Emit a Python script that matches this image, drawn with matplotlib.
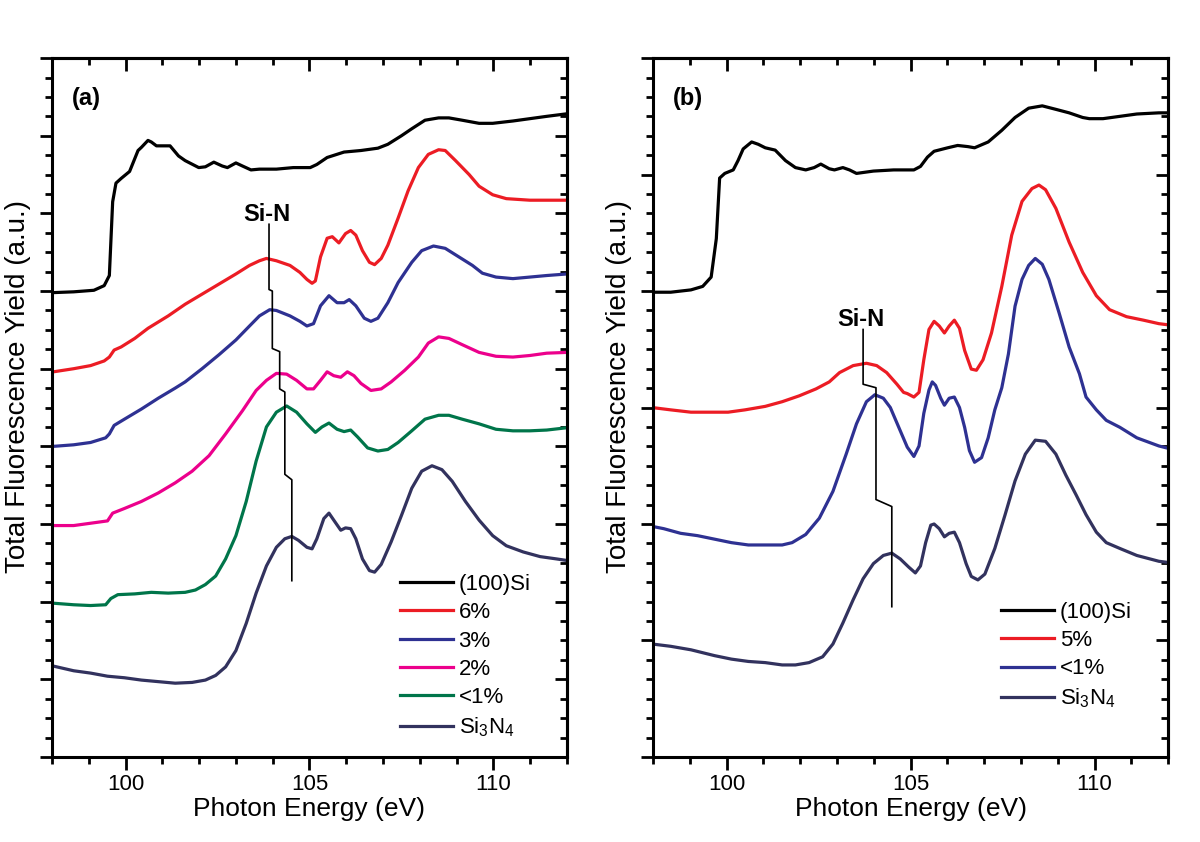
import matplotlib
matplotlib.use('Agg')
import matplotlib.pyplot as plt
from matplotlib.ticker import MultipleLocator, AutoMinorLocator

plt.rcParams['font.family'] = ['Liberation Sans', 'DejaVu Sans']
plt.rcParams['mathtext.fontset'] = 'custom'
plt.rcParams['mathtext.rm'] = 'Liberation Sans'
plt.rcParams['mathtext.it'] = 'Liberation Sans:italic'

# ---------------- panel (a) ----------------
# (100)Si
a_si_e = [98.04, 98.59, 99.14, 99.42, 99.56, 99.65, 99.74, 99.88, 100.11, 100.34, 100.43, 100.61,
          100.70, 100.84, 101.21, 101.44, 101.62, 101.99, 102.17, 102.40, 102.63, 102.77, 103.00,
          103.18, 103.41, 103.64, 104.10, 104.56, 105.02, 105.20, 105.48, 105.94, 106.40, 106.86,
          107.13, 107.50, 107.78, 108.14, 108.51, 108.79, 109.15, 109.61, 109.98, 110.53, 110.99,
          111.45, 111.95]
a_si_y = [5.98, 5.99, 6.01, 6.07, 6.20, 7.15, 7.39, 7.45, 7.54, 7.81, 7.85, 7.94,
          7.92, 7.87, 7.87, 7.74, 7.68, 7.59, 7.60, 7.66, 7.61, 7.59, 7.65,
          7.61, 7.56, 7.57, 7.57, 7.59, 7.59, 7.63, 7.72, 7.79, 7.81, 7.84,
          7.89, 8.00, 8.09, 8.20, 8.23, 8.23, 8.20, 8.16, 8.16, 8.19, 8.22,
          8.25, 8.28]

# 6%
a_6_e = [98.04, 98.59, 99.05, 99.42, 99.56, 99.69, 99.88, 100.25, 100.61, 101.16, 101.62, 102.08,
         102.54, 103.00, 103.37, 103.64, 103.83, 104.10, 104.47, 104.74, 104.93, 105.07, 105.16,
         105.30, 105.48, 105.62, 105.80, 105.98, 106.12, 106.26, 106.44, 106.63, 106.77, 106.95,
         107.13, 107.41, 107.68, 107.96, 108.23, 108.51, 108.69, 108.97, 109.34, 109.61, 109.98,
         110.35, 110.99, 111.45, 112.0]
a_6_y = [4.96, 5.00, 5.04, 5.10, 5.15, 5.24, 5.28, 5.39, 5.52, 5.68, 5.83, 5.96,
         6.09, 6.22, 6.33, 6.39, 6.42, 6.39, 6.33, 6.24, 6.15, 6.10, 6.13,
         6.44, 6.68, 6.70, 6.62, 6.74, 6.78, 6.72, 6.52, 6.37, 6.34, 6.42,
         6.59, 6.94, 7.29, 7.59, 7.76, 7.82, 7.81, 7.68, 7.50, 7.35, 7.24,
         7.19, 7.17, 7.17, 7.17]

# 3%
a_3_e = [98.04, 98.59, 99.05, 99.46, 99.56, 99.69, 99.97, 100.43, 100.89, 101.35, 101.62, 102.08,
         102.54, 103.00, 103.37, 103.64, 103.92, 104.10, 104.47, 104.74, 104.93, 105.11, 105.30,
         105.53, 105.75, 105.94, 106.08, 106.26, 106.49, 106.67, 106.86, 107.13, 107.41, 107.78,
         108.05, 108.37, 108.69, 109.06, 109.43, 109.70, 110.07, 110.53, 110.99, 111.45, 112.0]
a_3_y = [4.00, 4.02, 4.05, 4.11, 4.16, 4.27, 4.35, 4.48, 4.62, 4.75, 4.83, 5.00,
         5.18, 5.37, 5.55, 5.68, 5.76, 5.75, 5.68, 5.61, 5.55, 5.58, 5.81,
         5.94, 5.85, 5.85, 5.89, 5.81, 5.65, 5.61, 5.65, 5.85, 6.11, 6.37,
         6.52, 6.58, 6.55, 6.44, 6.33, 6.23, 6.18, 6.16, 6.18, 6.20, 6.22]

# 2%
a_2_e = [98.04, 98.59, 99.05, 99.51, 99.65, 99.97, 100.43, 100.89, 101.35, 101.81, 102.27, 102.72,
         103.18, 103.55, 103.83, 104.10, 104.38, 104.65, 104.93, 105.11, 105.30, 105.48, 105.66,
         105.85, 106.03, 106.21, 106.40, 106.67, 106.95, 107.22, 107.59, 107.96, 108.23, 108.51,
         108.79, 109.15, 109.61, 110.07, 110.53, 110.99, 111.45, 112.0]
a_2_y = [2.98, 2.98, 3.01, 3.04, 3.14, 3.20, 3.29, 3.40, 3.53, 3.68, 3.88, 4.16,
         4.46, 4.72, 4.85, 4.94, 4.93, 4.85, 4.74, 4.74, 4.85, 4.96, 4.91,
         4.89, 4.96, 4.91, 4.81, 4.72, 4.74, 4.83, 4.98, 5.15, 5.33, 5.41,
         5.39, 5.31, 5.21, 5.16, 5.15, 5.17, 5.20, 5.21]

# <1%
a_1_e = [98.04, 98.59, 99.05, 99.46, 99.60, 99.79, 100.25, 100.70, 101.16, 101.62, 101.90, 102.17,
         102.45, 102.72, 103.00, 103.28, 103.55, 103.83, 104.10, 104.38, 104.65, 104.93, 105.16,
         105.34, 105.53, 105.75, 105.94, 106.12, 106.31, 106.58, 106.86, 107.13, 107.41, 107.78,
         108.14, 108.51, 108.79, 109.15, 109.61, 110.07, 110.53, 110.99, 111.45, 112.0]
a_1_y = [1.98, 1.96, 1.95, 1.96, 2.04, 2.09, 2.10, 2.12, 2.11, 2.12, 2.15, 2.22,
         2.33, 2.55, 2.85, 3.29, 3.81, 4.25, 4.44, 4.52, 4.44, 4.29, 4.18,
         4.25, 4.30, 4.22, 4.19, 4.21, 4.12, 3.98, 3.94, 3.96, 4.05, 4.20,
         4.35, 4.40, 4.40, 4.35, 4.29, 4.22, 4.20, 4.20, 4.21, 4.24]

# Si3N4
a_sin_e = [98.04, 98.59, 99.05, 99.51, 99.97, 100.43, 100.89, 101.35, 101.81, 102.17, 102.45, 102.72,
           103.00, 103.28, 103.55, 103.83, 104.10, 104.33, 104.52, 104.70, 104.93, 105.07, 105.20,
           105.39, 105.53, 105.66, 105.85, 105.98, 106.12, 106.26, 106.44, 106.63, 106.77, 106.95,
           107.22, 107.50, 107.78, 108.05, 108.33, 108.60, 108.88, 109.24, 109.61, 109.98, 110.35,
           110.81, 111.27, 111.72, 112.0]
a_sin_y = [1.17, 1.11, 1.08, 1.04, 1.02, 0.99, 0.97, 0.95, 0.96, 0.99, 1.05, 1.16,
           1.37, 1.72, 2.11, 2.46, 2.70, 2.81, 2.84, 2.79, 2.70, 2.68, 2.81,
           3.07, 3.14, 3.05, 2.92, 2.95, 2.94, 2.81, 2.55, 2.40, 2.38, 2.48,
           2.77, 3.11, 3.46, 3.68, 3.75, 3.70, 3.55, 3.29, 3.05, 2.85, 2.72,
           2.64, 2.58, 2.55, 2.53]

# Si-N peak marker
a_mark_e = [103.90, 103.90, 103.99, 103.99, 104.19, 104.19, 104.33, 104.33, 104.52, 104.52]
a_mark_y = [6.86, 6.02, 6.00, 5.26, 5.22, 4.74, 4.70, 3.64, 3.57, 2.27]

# ---------------- panel (b) ----------------
b_si_e = [97.97, 98.48, 99.03, 99.35, 99.58, 99.72, 99.81, 99.95, 100.18, 100.31, 100.45, 100.68,
          100.86, 101.05, 101.32, 101.60, 101.87, 102.15, 102.38, 102.56, 102.79, 102.93, 103.16,
          103.34, 103.53, 103.99, 104.54, 105.09, 105.27, 105.46, 105.64, 106.01, 106.28, 106.56,
          106.74, 107.11, 107.48, 107.84, 108.21, 108.58, 108.95, 109.31, 109.68, 109.86, 110.23,
          110.69, 111.15, 111.75, 112.0]
b_si_y = [3.99, 3.99, 4.01, 4.04, 4.12, 4.45, 4.97, 5.01, 5.04, 5.12, 5.22, 5.28,
          5.26, 5.23, 5.21, 5.12, 5.06, 5.04, 5.06, 5.09, 5.05, 5.04, 5.06,
          5.04, 5.01, 5.03, 5.04, 5.04, 5.07, 5.15, 5.20, 5.23, 5.25, 5.24,
          5.23, 5.28, 5.38, 5.49, 5.57, 5.59, 5.56, 5.53, 5.49, 5.48, 5.48,
          5.50, 5.52, 5.53, 5.53]

# 5%
b_5_e = [97.97, 98.48, 99.03, 99.49, 100.04, 100.50, 101.05, 101.51, 101.97, 102.43, 102.79, 103.07,
         103.44, 103.80, 104.08, 104.35, 104.63, 104.81, 104.91, 105.09, 105.23, 105.36, 105.50,
         105.64, 105.78, 105.92, 106.05, 106.19, 106.33, 106.47, 106.65, 106.79, 106.97, 107.20,
         107.48, 107.75, 108.03, 108.30, 108.49, 108.67, 108.95, 109.31, 109.68, 110.05, 110.41,
         110.87, 111.33, 111.75, 112.0]
b_5_y = [3.00, 2.98, 2.96, 2.96, 2.96, 2.98, 3.01, 3.05, 3.10, 3.16, 3.22, 3.30,
         3.36, 3.38, 3.36, 3.30, 3.20, 3.13, 3.12, 3.09, 3.13, 3.41, 3.67,
         3.74, 3.70, 3.64, 3.70, 3.75, 3.68, 3.49, 3.33, 3.32, 3.41, 3.64,
         4.04, 4.48, 4.77, 4.88, 4.91, 4.87, 4.71, 4.42, 4.16, 3.96, 3.84,
         3.78, 3.75, 3.72, 3.71]

# <1%
b_1_e = [97.97, 98.29, 98.75, 99.21, 99.67, 100.13, 100.59, 101.05, 101.51, 101.78, 102.15, 102.52,
         102.89, 103.25, 103.53, 103.80, 104.03, 104.26, 104.45, 104.68, 104.91, 105.09, 105.23,
         105.36, 105.50, 105.59, 105.68, 105.82, 105.92, 106.05, 106.19, 106.33, 106.47, 106.60,
         106.74, 106.93, 107.11, 107.29, 107.48, 107.66, 107.84, 108.03, 108.21, 108.39, 108.58,
         108.76, 109.04, 109.31, 109.59, 109.77, 110.05, 110.32, 110.69, 111.15, 111.75, 112.0]
b_1_y = [1.98, 1.96, 1.92, 1.90, 1.87, 1.84, 1.82, 1.82, 1.82, 1.84, 1.91, 2.05,
         2.28, 2.60, 2.86, 3.05, 3.11, 3.08, 3.00, 2.83, 2.66, 2.58, 2.67,
         2.95, 3.15, 3.22, 3.19, 3.08, 3.02, 3.08, 3.09, 3.00, 2.83, 2.63,
         2.53, 2.57, 2.74, 2.98, 3.17, 3.46, 3.87, 4.10, 4.22, 4.28, 4.23,
         4.10, 3.81, 3.52, 3.29, 3.09, 2.98, 2.89, 2.83, 2.74, 2.67, 2.65]

# Si3N4
b_sin_e = [97.97, 98.48, 99.03, 99.67, 100.13, 100.59, 101.05, 101.51, 101.87, 102.24, 102.61, 102.89,
           103.16, 103.44, 103.71, 103.99, 104.26, 104.49, 104.72, 104.95, 105.13, 105.27, 105.41,
           105.55, 105.64, 105.78, 105.92, 106.05, 106.19, 106.33, 106.51, 106.65, 106.83, 107.02,
           107.29, 107.57, 107.84, 108.12, 108.39, 108.67, 108.95, 109.22, 109.50, 109.77, 110.05,
           110.32, 110.69, 111.15, 111.75, 112.0]
b_sin_y = [0.97, 0.95, 0.92, 0.87, 0.84, 0.82, 0.81, 0.79, 0.79, 0.81, 0.86, 0.97,
           1.15, 1.35, 1.53, 1.66, 1.73, 1.75, 1.70, 1.63, 1.58, 1.64, 1.84,
           1.99, 2.00, 1.96, 1.89, 1.92, 1.93, 1.84, 1.66, 1.55, 1.52, 1.57,
           1.79, 2.08, 2.37, 2.60, 2.72, 2.71, 2.60, 2.42, 2.25, 2.08, 1.93,
           1.84, 1.79, 1.73, 1.68, 1.67]

b_mark_e = [103.71, 103.71, 104.06, 104.06, 104.49, 104.49]
b_mark_y = [3.67, 3.20, 3.17, 2.21, 2.15, 1.29]

red = '#ec1c24'
blue = '#2e3192'
magenta = '#ec008c'
green = '#00754a'
navy = '#32325e'
sin_label = 'Si$_3$N$_4$'

fig = plt.figure(figsize=(12, 8.42), dpi=100)
ax_a = fig.add_axes([0.0433, 0.101, 0.4292, 0.830])
ax_b = fig.add_axes([0.5442, 0.101, 0.4292, 0.830])


def style_axes(ax, ymax, nminor):
    ax.set_xlim(98, 112)
    ax.set_ylim(0, ymax)
    for s in ax.spines.values():
        s.set_linewidth(2.2)
    ax.xaxis.set_major_locator(MultipleLocator(5))
    ax.xaxis.set_minor_locator(MultipleLocator(1))
    ax.yaxis.set_major_locator(MultipleLocator(1))
    ax.yaxis.set_minor_locator(AutoMinorLocator(nminor))
    ax.tick_params(which='both', direction='out', width=2, top=False, right=False,
                   labelleft=False, labelsize=16, pad=3)
    ax.tick_params(which='major', length=9)
    ax.tick_params(which='minor', length=5)
    top = ax.secondary_xaxis('top')
    top.xaxis.set_major_locator(MultipleLocator(5))
    top.xaxis.set_minor_locator(MultipleLocator(1))
    top.tick_params(which='both', direction='in', width=2, labeltop=False)
    top.tick_params(which='major', length=9)
    top.tick_params(which='minor', length=5)
    top.spines['top'].set_linewidth(2.2)
    right = ax.secondary_yaxis('right')
    right.yaxis.set_major_locator(MultipleLocator(1))
    right.yaxis.set_minor_locator(AutoMinorLocator(nminor))
    right.tick_params(which='both', direction='in', width=2, labelright=False)
    right.tick_params(which='major', length=9)
    right.tick_params(which='minor', length=5)
    right.spines['right'].set_linewidth(2.2)
    ax.set_xlabel('Photon Energy (eV)', fontsize=19, labelpad=2)
    ax.set_ylabel('Total Fluorescence Yield (a.u.)', fontsize=20)
    ax.yaxis.set_label_coords(-0.04, 0.53)


# panel (a)
lw = 2.3
ax_a.plot(a_si_e, a_si_y, color='black', lw=lw, label='(100)Si', solid_joinstyle='round')
ax_a.plot(a_6_e, a_6_y, color=red, lw=lw, label='6%', solid_joinstyle='round')
ax_a.plot(a_3_e, a_3_y, color=blue, lw=lw, label='3%', solid_joinstyle='round')
ax_a.plot(a_2_e, a_2_y, color=magenta, lw=lw, label='2%', solid_joinstyle='round')
ax_a.plot(a_1_e, a_1_y, color=green, lw=lw, label='<1%', solid_joinstyle='round')
ax_a.plot(a_sin_e, a_sin_y, color=navy, lw=lw, label=sin_label, solid_joinstyle='round')
ax_a.plot(a_mark_e, a_mark_y, color='black', lw=1.2)
ax_a.text(103.85, 6.98, 'Si-N', fontsize=17, fontweight='bold', ha='center', va='center')
ax_a.text(98.55, 8.48, '(a)', fontsize=17, fontweight='bold', ha='left', va='center')
style_axes(ax_a, 9, 4)
ax_a.legend(loc='upper left', bbox_to_anchor=(0.675, 0.262), frameon=False, fontsize=16,
            handlelength=2.4, handletextpad=0.25, labelspacing=0.33, borderpad=0, borderaxespad=0)

# panel (b)
ax_b.plot(b_si_e, b_si_y, color='black', lw=lw, label='(100)Si', solid_joinstyle='round')
ax_b.plot(b_5_e, b_5_y, color=red, lw=lw, label='5%', solid_joinstyle='round')
ax_b.plot(b_1_e, b_1_y, color=blue, lw=lw, label='<1%', solid_joinstyle='round')
ax_b.plot(b_sin_e, b_sin_y, color=navy, lw=lw, label=sin_label, solid_joinstyle='round')
ax_b.plot(b_mark_e, b_mark_y, color='black', lw=1.2)
ax_b.text(103.66, 3.76, 'Si-N', fontsize=17, fontweight='bold', ha='center', va='center')
ax_b.text(98.55, 5.657, '(b)', fontsize=17, fontweight='bold', ha='left', va='center')
style_axes(ax_b, 6, 6)
ax_b.legend(loc='upper left', bbox_to_anchor=(0.675, 0.222), frameon=False, fontsize=16,
            handlelength=2.4, handletextpad=0.25, labelspacing=0.33, borderpad=0, borderaxespad=0)

fig.savefig('out.png', dpi=100)
